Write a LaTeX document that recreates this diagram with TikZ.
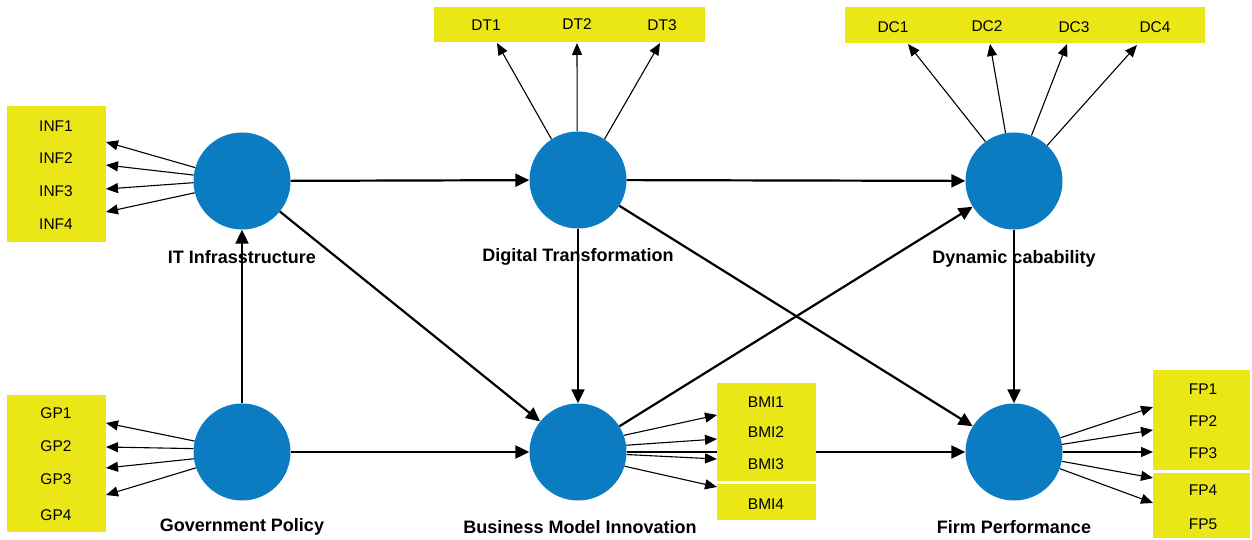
\documentclass[tikz,border=0pt]{standalone}
\usepackage{fontspec}
\setmainfont{Liberation Sans}
\usetikzlibrary{arrows.meta}
\definecolor{ybox}{RGB}{235,231,22}
\definecolor{lvblue}{RGB}{11,124,193}
\begin{document}
\begin{tikzpicture}[x=1pt,y=-1pt,
 lvar/.style={circle,fill=lvblue,minimum size=97pt,inner sep=0pt},
 ind/.style={fill=ybox,inner sep=0pt},
 itxt/.style={font=\fontsize{15.5}{15.5}\selectfont,inner sep=0pt},
 ltxt/.style={font=\bfseries\fontsize{18}{18}\selectfont,inner sep=1pt},
 iarr/.style={line width=1.1pt,-{Triangle[length=12pt,width=10pt]}},
 marr/.style={line width=2.2pt,-{Triangle[length=14pt,width=13pt]}}]
\fill[white] (0,0) rectangle (1252,540);
\useasboundingbox (0,0) rectangle (1252,540);
% latent variables
\node[lvar] (it) at (242,181) {};
\node[lvar] (dt) at (578,180) {};
\node[lvar] (dc) at (1014,181) {};
\node[lvar] (gp) at (242,452) {};
\node[lvar] (bmi) at (578,452) {};
\node[lvar] (fp) at (1014,452) {};
% structural paths
\draw[marr] (it) -- (dt);
\draw[marr] (dt) -- (dc);
\draw[marr] (it) -- (bmi);
\draw[marr] (gp) -- (it);
\draw[marr] (gp) -- (bmi);
\draw[marr] (dt) -- (bmi);
\draw[marr] (dt) -- (fp);
\draw[marr] (bmi) -- (dc);
\draw[marr] (dc) -- (fp);
\draw[marr] (bmi) -- (fp);
\node[ltxt] (itl) at (242,257) {IT Infrasstructure};
\node[ltxt] (dtl) at (578,257) {Digital Transformation};
\node[ltxt] (dcl) at (1014,259) {Dynamic cabability};
\node[ltxt] (gpl) at (242,527) {Government Policy};
\node[ltxt] (bmil) at (580,527) {Business Model Innovation};
\node[ltxt] (fpl) at (1014,527) {Firm Performance};
% indicator boxes
\node[ind,minimum width=99pt,minimum height=136pt] (infbox) at (56.5,174) {};
\node[ind,minimum width=99pt,minimum height=137pt] (gpbox) at (56.5,463.5) {};
\node[ind,minimum width=271pt,minimum height=35pt] (dtbox) at (569.5,24.5) {};
\node[ind,minimum width=360pt,minimum height=36pt] (dcbox) at (1025,25) {};
\node[ind,minimum width=99pt,minimum height=98pt] (bmibox) at (766.5,432) {};
\node[ind,minimum width=99pt,minimum height=36pt] (bmibox4) at (766.5,502) {};
\node[ind,minimum width=97pt,minimum height=100pt] (fpbox) at (1201.5,420) {};
\node[ind,minimum width=97pt,minimum height=65pt] (fpbox2) at (1201.5,505.5) {};
% indicator labels
\node[itxt] (inf1) at (56,126) {INF1};
\node[itxt] (inf2) at (56,158) {INF2};
\node[itxt] (inf3) at (56,191) {INF3};
\node[itxt] (inf4) at (56,224) {INF4};
\node[itxt] (gp1) at (56,413) {GP1};
\node[itxt] (gp2) at (56,446) {GP2};
\node[itxt] (gp3) at (56,479) {GP3};
\node[itxt] (gp4) at (56,515) {GP4};
\node[itxt] (dt1) at (486,25) {DT1};
\node[itxt] (dt2) at (577,24) {DT2};
\node[itxt] (dt3) at (662,25) {DT3};
\node[itxt] (dc1) at (893,27) {DC1};
\node[itxt] (dc2) at (987,26) {DC2};
\node[itxt] (dc3) at (1074,27) {DC3};
\node[itxt] (dc4) at (1155,27) {DC4};
\node[itxt] (bmi1) at (766,402) {BMI1};
\node[itxt] (bmi2) at (766,432) {BMI2};
\node[itxt] (bmi3) at (766,464) {BMI3};
\node[itxt] (bmi4) at (766,504) {BMI4};
\node[itxt] (fp1) at (1203,389) {FP1};
\node[itxt] (fp2) at (1203,421) {FP2};
\node[itxt] (fp3) at (1203,453) {FP3};
\node[itxt] (fp4) at (1203,490) {FP4};
\node[itxt] (fp5) at (1203,524) {FP5};
% indicator arrow tips
\coordinate (ti1) at (106,142);
\coordinate (ti2) at (106,165);
\coordinate (ti3) at (106,189);
\coordinate (ti4) at (106,212);
\coordinate (tg1) at (106,423);
\coordinate (tg2) at (106,447);
\coordinate (tg3) at (106,468);
\coordinate (tg4) at (106,495);
\coordinate (td1) at (497,43);
\coordinate (td2) at (577,43);
\coordinate (td3) at (660,43);
\coordinate (tc1) at (908,44);
\coordinate (tc2) at (990,44);
\coordinate (tc3) at (1067,44);
\coordinate (tc4) at (1137,45);
\coordinate (tb1) at (717,415);
\coordinate (tb2) at (717,439);
\coordinate (tb3) at (717,459);
\coordinate (tb4) at (717,487);
\coordinate (tf1) at (1153,407);
\coordinate (tf2) at (1153,430);
\coordinate (tf3) at (1153,452);
\coordinate (tf4) at (1153,478);
\coordinate (tf5) at (1153,503);
% indicator arrows
\draw[iarr] (it.164) -- (ti1);
\draw[iarr] (it.173) -- (ti2);
\draw[iarr] (it.182) -- (ti3);
\draw[iarr] (it.194) -- (ti4);
\draw[iarr] (gp.167) -- (tg1);
\draw[iarr] (gp.176) -- (tg2);
\draw[iarr] (gp.188) -- (tg3);
\draw[iarr] (gp.199) -- (tg4);
\draw[iarr] (dt.123) -- (td1);
\draw[iarr] (dt.91) -- (td2);
\draw[iarr] (dt.57) -- (td3);
\draw[iarr] (dc.126) -- (tc1);
\draw[iarr] (dc.100) -- (tc2);
\draw[iarr] (dc.69) -- (tc3);
\draw[iarr] (dc.47) -- (tc4);
\draw[iarr] (bmi.20) -- (tb1);
\draw[iarr] (bmi.8) -- (tb2);
\draw[iarr] (bmi.-3) -- (tb3);
\draw[iarr] (bmi.-17) -- (tb4);
\draw[iarr] (fp.17) -- (tf1);
\draw[iarr] (fp.9) -- (tf2);
\draw[iarr] (fp.0) -- (tf3);
\draw[iarr] (fp.-11) -- (tf4);
\draw[iarr] (fp.-20) -- (tf5);
\end{tikzpicture}
\end{document}
